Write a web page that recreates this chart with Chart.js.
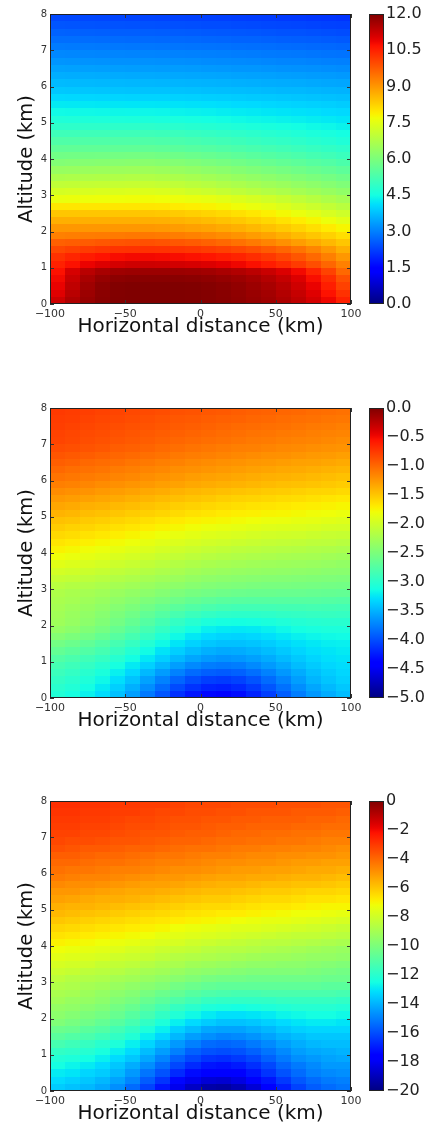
<!DOCTYPE html>
<html>
<head>
<meta charset="utf-8">
<script src="https://cdn.jsdelivr.net/npm/chart.js@4.4.0/dist/chart.umd.min.js"></script>
<style>
  body { margin: 0; background: #fff; }
  .panel { position: absolute; left: 0; width: 427px; height: 345px; }
  .panel canvas { position: absolute; top: 0; }
</style>
</head>
<body>
<div class="panel" style="top:0px">
  <canvas id="map1" width="368" height="345" style="left:0px"></canvas>
  <canvas id="bar1" width="58" height="345" style="left:369px"></canvas>
</div>
<div class="panel" style="top:394px">
  <canvas id="map2" width="368" height="345" style="left:0px"></canvas>
  <canvas id="bar2" width="58" height="345" style="left:369px"></canvas>
</div>
<div class="panel" style="top:787px">
  <canvas id="map3" width="368" height="345" style="left:0px"></canvas>
  <canvas id="bar3" width="58" height="345" style="left:369px"></canvas>
</div>
<script>
// grid cell edges (km): columns left->right, rows top->bottom
const distanceEdges = [-100,-90,-80,-70,-60,-50,-40,-30,-20,-10,0,10,20,30,40,50,60,70,80,90,100];
const altitudeEdges = [8.0,7.8,7.6,7.4,7.2,7.0,6.8,6.6,6.4,6.2,6.0,5.8,5.6,5.4,5.2,5.0,4.8,4.6,4.4,4.2,4.0,
                       3.8,3.6,3.4,3.2,3.0,2.8,2.6,2.4,2.2,2.0,1.8,1.6,1.4,1.2,1.0,0.8,0.6,0.4,0.2,0.0];
const distanceTicks = [-100, -50, 0, 50, 100];
const altitudeTicks = [0, 1, 2, 3, 4, 5, 6, 7, 8];

// colorbar ticks
const ticks1 = [0, 1.5, 3, 4.5, 6, 7.5, 9, 10.5, 12];
const ticks2 = [-5, -4.5, -4, -3.5, -3, -2.5, -2, -1.5, -1, -0.5, 0];
const ticks3 = [-20, -18, -16, -14, -12, -10, -8, -6, -4, -2, 0];

// field values, one row per altitude band (top row = 7.8-8.0 km)
const field1 = [
  [2.35,2.34,2.33,2.32,2.31,2.30,2.30,2.29,2.28,2.27,2.25,2.24,2.22,2.21,2.19,2.17,2.16,2.14,2.12,2.10],
  [2.50,2.49,2.48,2.47,2.46,2.45,2.45,2.44,2.43,2.42,2.40,2.39,2.37,2.36,2.34,2.32,2.31,2.29,2.27,2.25],
  [2.65,2.64,2.63,2.62,2.61,2.60,2.60,2.59,2.58,2.57,2.55,2.54,2.52,2.51,2.49,2.47,2.46,2.44,2.42,2.40],
  [2.80,2.79,2.78,2.77,2.76,2.75,2.75,2.74,2.73,2.72,2.70,2.69,2.67,2.66,2.64,2.62,2.61,2.59,2.57,2.55],
  [2.95,2.94,2.93,2.92,2.91,2.90,2.90,2.89,2.88,2.87,2.85,2.84,2.82,2.81,2.79,2.77,2.76,2.74,2.72,2.70],
  [3.10,3.09,3.08,3.07,3.06,3.05,3.05,3.04,3.03,3.02,3.00,2.99,2.97,2.96,2.94,2.92,2.91,2.89,2.87,2.85],
  [3.25,3.24,3.23,3.22,3.21,3.20,3.20,3.19,3.18,3.17,3.15,3.14,3.12,3.11,3.09,3.07,3.06,3.04,3.02,3.00],
  [3.40,3.39,3.38,3.37,3.36,3.35,3.35,3.34,3.33,3.32,3.30,3.29,3.27,3.26,3.24,3.22,3.21,3.19,3.17,3.15],
  [3.55,3.54,3.53,3.52,3.51,3.50,3.50,3.49,3.48,3.47,3.45,3.44,3.42,3.41,3.39,3.37,3.36,3.34,3.32,3.30],
  [3.70,3.69,3.68,3.67,3.66,3.65,3.65,3.64,3.63,3.62,3.60,3.59,3.57,3.56,3.54,3.52,3.51,3.49,3.47,3.45],
  [3.85,3.84,3.83,3.82,3.81,3.80,3.80,3.79,3.78,3.77,3.75,3.74,3.72,3.71,3.69,3.67,3.66,3.64,3.62,3.60],
  [4.05,4.04,4.03,4.02,4.01,4.00,4.00,3.99,3.97,3.96,3.94,3.92,3.90,3.88,3.86,3.84,3.82,3.80,3.77,3.75],
  [4.25,4.24,4.23,4.22,4.21,4.20,4.20,4.19,4.17,4.15,4.13,4.11,4.08,4.06,4.03,4.01,3.98,3.96,3.93,3.90],
  [4.45,4.44,4.43,4.42,4.41,4.40,4.40,4.39,4.36,4.34,4.32,4.29,4.26,4.24,4.21,4.18,4.15,4.12,4.08,4.05],
  [4.65,4.64,4.63,4.62,4.61,4.60,4.60,4.58,4.56,4.53,4.50,4.48,4.44,4.41,4.38,4.35,4.31,4.28,4.24,4.20],
  [4.85,4.85,4.85,4.85,4.85,4.85,4.85,4.83,4.80,4.76,4.73,4.69,4.65,4.61,4.57,4.53,4.49,4.44,4.40,4.35],
  [5.10,5.10,5.10,5.10,5.10,5.10,5.10,5.08,5.04,5.00,4.96,4.91,4.87,4.82,4.77,4.72,4.67,4.61,4.56,4.50],
  [5.35,5.35,5.35,5.35,5.35,5.35,5.35,5.32,5.28,5.23,5.18,5.13,5.08,5.02,4.96,4.91,4.85,4.78,4.72,4.65],
  [5.60,5.60,5.60,5.60,5.60,5.60,5.60,5.57,5.52,5.47,5.42,5.37,5.31,5.25,5.19,5.13,5.06,4.99,4.92,4.85],
  [5.85,5.86,5.87,5.88,5.89,5.90,5.90,5.87,5.81,5.76,5.70,5.64,5.57,5.50,5.43,5.36,5.29,5.21,5.13,5.05],
  [6.10,6.12,6.14,6.16,6.17,6.19,6.20,6.16,6.11,6.05,5.98,5.92,5.85,5.78,5.70,5.63,5.55,5.47,5.39,5.30],
  [6.40,6.42,6.44,6.46,6.47,6.49,6.50,6.46,6.40,6.34,6.27,6.21,6.13,6.05,5.98,5.90,5.82,5.73,5.64,5.55],
  [6.70,6.72,6.74,6.76,6.77,6.79,6.80,6.76,6.70,6.63,6.56,6.49,6.41,6.33,6.25,6.17,6.08,5.99,5.90,5.80],
  [7.00,7.02,7.04,7.06,7.07,7.09,7.10,7.06,6.99,6.92,6.85,6.77,6.69,6.61,6.52,6.44,6.34,6.25,6.15,6.05],
  [7.30,7.32,7.34,7.36,7.37,7.39,7.40,7.36,7.29,7.21,7.14,7.06,6.97,6.88,6.79,6.71,6.61,6.51,6.41,6.30],
  [7.60,7.62,7.64,7.66,7.67,7.69,7.70,7.68,7.64,7.60,7.55,7.48,7.40,7.31,7.22,7.11,6.98,6.86,6.73,6.60],
  [8.00,8.00,8.00,8.00,8.00,8.00,8.00,7.98,7.94,7.90,7.85,7.78,7.70,7.61,7.52,7.41,7.28,7.16,7.03,6.90],
  [8.40,8.40,8.40,8.40,8.40,8.40,8.40,8.38,8.34,8.29,8.23,8.16,8.08,7.98,7.87,7.75,7.62,7.49,7.34,7.20],
  [8.70,8.70,8.70,8.70,8.70,8.70,8.70,8.68,8.64,8.59,8.53,8.46,8.38,8.28,8.17,8.05,7.92,7.79,7.64,7.50],
  [9.00,9.00,9.00,9.00,9.00,9.00,9.00,8.98,8.94,8.89,8.83,8.76,8.68,8.58,8.47,8.35,8.22,8.09,7.94,7.80],
  [9.30,9.32,9.34,9.36,9.37,9.39,9.40,9.37,9.33,9.28,9.22,9.14,9.05,8.94,8.83,8.70,8.55,8.41,8.26,8.10],
  [9.70,9.74,9.77,9.81,9.85,9.88,9.90,9.87,9.82,9.76,9.69,9.60,9.49,9.37,9.24,9.09,8.92,8.76,8.58,8.40],
  [10.00,10.09,10.17,10.23,10.27,10.29,10.30,10.28,10.26,10.22,10.16,10.09,10.00,9.90,9.77,9.62,9.44,9.23,8.98,8.70],
  [10.30,10.45,10.58,10.68,10.75,10.79,10.80,10.78,10.75,10.71,10.65,10.57,10.47,10.35,10.21,10.03,9.83,9.59,9.31,9.00],
  [10.50,10.71,10.89,11.03,11.13,11.19,11.20,11.18,11.15,11.10,11.04,10.95,10.85,10.72,10.57,10.39,10.17,9.93,9.63,9.30],
  [10.70,11.10,11.40,11.58,11.67,11.70,11.70,11.70,11.70,11.68,11.64,11.57,11.49,11.38,11.24,11.05,10.80,10.48,10.08,9.60],
  [10.80,11.24,11.57,11.77,11.87,11.90,11.90,11.90,11.90,11.88,11.84,11.78,11.70,11.60,11.46,11.28,11.04,10.74,10.36,9.90],
  [10.90,11.34,11.67,11.87,11.97,12.00,12.00,12.00,12.00,11.98,11.94,11.89,11.81,11.71,11.58,11.41,11.18,10.90,10.54,10.10],
  [11.00,11.40,11.70,11.88,11.97,12.00,12.00,12.00,12.00,11.98,11.95,11.90,11.83,11.74,11.63,11.47,11.27,11.01,10.69,10.30],
  [11.20,11.52,11.76,11.90,11.98,12.00,12.00,12.00,12.00,11.98,11.95,11.91,11.85,11.77,11.67,11.53,11.35,11.13,10.85,10.50]
];

const field2 = [
  [-0.75,-0.77,-0.78,-0.80,-0.81,-0.83,-0.84,-0.86,-0.88,-0.89,-0.91,-0.92,-0.94,-0.96,-0.97,-0.99,-1.00,-1.02,-1.03,-1.05],
  [-0.77,-0.78,-0.80,-0.82,-0.83,-0.85,-0.87,-0.89,-0.91,-0.92,-0.94,-0.96,-0.97,-0.99,-1.00,-1.02,-1.04,-1.05,-1.07,-1.08],
  [-0.78,-0.80,-0.82,-0.84,-0.86,-0.88,-0.89,-0.91,-0.93,-0.95,-0.97,-0.99,-1.01,-1.02,-1.04,-1.05,-1.07,-1.09,-1.10,-1.12],
  [-0.80,-0.82,-0.84,-0.86,-0.88,-0.90,-0.92,-0.94,-0.96,-0.98,-1.00,-1.02,-1.04,-1.06,-1.07,-1.09,-1.10,-1.12,-1.14,-1.15],
  [-0.81,-0.83,-0.86,-0.88,-0.90,-0.92,-0.94,-0.97,-0.99,-1.01,-1.03,-1.05,-1.07,-1.09,-1.10,-1.12,-1.14,-1.15,-1.17,-1.19],
  [-0.85,-0.87,-0.89,-0.91,-0.94,-0.96,-0.98,-1.01,-1.03,-1.06,-1.08,-1.10,-1.12,-1.13,-1.15,-1.17,-1.18,-1.20,-1.22,-1.23],
  [-0.90,-0.92,-0.94,-0.97,-0.99,-1.01,-1.04,-1.06,-1.09,-1.11,-1.13,-1.15,-1.17,-1.19,-1.21,-1.22,-1.24,-1.26,-1.27,-1.29],
  [-0.95,-0.97,-1.00,-1.02,-1.04,-1.07,-1.09,-1.12,-1.14,-1.17,-1.19,-1.21,-1.23,-1.25,-1.26,-1.28,-1.30,-1.31,-1.33,-1.35],
  [-1.00,-1.03,-1.05,-1.07,-1.10,-1.12,-1.15,-1.17,-1.20,-1.22,-1.24,-1.26,-1.28,-1.30,-1.32,-1.34,-1.35,-1.37,-1.39,-1.41],
  [-1.06,-1.08,-1.10,-1.12,-1.15,-1.17,-1.20,-1.23,-1.25,-1.28,-1.30,-1.32,-1.34,-1.36,-1.38,-1.39,-1.41,-1.43,-1.45,-1.47],
  [-1.12,-1.14,-1.16,-1.19,-1.21,-1.24,-1.26,-1.29,-1.31,-1.34,-1.36,-1.38,-1.40,-1.42,-1.44,-1.46,-1.47,-1.49,-1.51,-1.53],
  [-1.19,-1.21,-1.23,-1.26,-1.28,-1.31,-1.34,-1.36,-1.39,-1.42,-1.44,-1.46,-1.48,-1.50,-1.52,-1.53,-1.55,-1.57,-1.58,-1.60],
  [-1.26,-1.28,-1.30,-1.33,-1.35,-1.38,-1.41,-1.44,-1.46,-1.49,-1.51,-1.54,-1.56,-1.57,-1.59,-1.61,-1.62,-1.64,-1.66,-1.68],
  [-1.33,-1.35,-1.38,-1.40,-1.43,-1.45,-1.48,-1.51,-1.54,-1.56,-1.59,-1.61,-1.63,-1.65,-1.66,-1.68,-1.70,-1.71,-1.73,-1.75],
  [-1.40,-1.42,-1.45,-1.47,-1.50,-1.53,-1.55,-1.58,-1.61,-1.64,-1.66,-1.69,-1.71,-1.72,-1.74,-1.75,-1.77,-1.79,-1.80,-1.82],
  [-1.47,-1.49,-1.52,-1.54,-1.57,-1.60,-1.63,-1.66,-1.69,-1.72,-1.74,-1.76,-1.78,-1.80,-1.82,-1.83,-1.85,-1.86,-1.88,-1.90],
  [-1.53,-1.56,-1.58,-1.61,-1.64,-1.67,-1.70,-1.73,-1.76,-1.79,-1.82,-1.84,-1.86,-1.88,-1.90,-1.91,-1.92,-1.94,-1.96,-1.97],
  [-1.60,-1.62,-1.65,-1.68,-1.71,-1.74,-1.78,-1.81,-1.84,-1.87,-1.90,-1.92,-1.94,-1.96,-1.98,-1.99,-2.00,-2.02,-2.04,-2.05],
  [-1.66,-1.69,-1.72,-1.75,-1.78,-1.81,-1.85,-1.89,-1.92,-1.95,-1.98,-2.00,-2.02,-2.04,-2.06,-2.07,-2.08,-2.10,-2.11,-2.13],
  [-1.73,-1.76,-1.79,-1.82,-1.85,-1.89,-1.92,-1.96,-2.00,-2.03,-2.06,-2.08,-2.11,-2.12,-2.14,-2.15,-2.16,-2.18,-2.19,-2.21],
  [-1.80,-1.83,-1.86,-1.89,-1.93,-1.96,-2.00,-2.04,-2.07,-2.11,-2.14,-2.16,-2.18,-2.20,-2.21,-2.23,-2.24,-2.25,-2.27,-2.29],
  [-1.88,-1.91,-1.94,-1.97,-2.01,-2.04,-2.08,-2.12,-2.16,-2.19,-2.22,-2.24,-2.26,-2.28,-2.29,-2.30,-2.31,-2.32,-2.34,-2.36],
  [-1.97,-1.99,-2.02,-2.05,-2.09,-2.12,-2.16,-2.20,-2.23,-2.27,-2.30,-2.32,-2.34,-2.35,-2.36,-2.37,-2.38,-2.39,-2.41,-2.42],
  [-2.05,-2.07,-2.10,-2.13,-2.17,-2.20,-2.24,-2.28,-2.31,-2.35,-2.38,-2.40,-2.42,-2.43,-2.44,-2.45,-2.46,-2.47,-2.48,-2.49],
  [-2.13,-2.16,-2.18,-2.21,-2.25,-2.28,-2.32,-2.36,-2.39,-2.43,-2.46,-2.48,-2.49,-2.51,-2.52,-2.52,-2.53,-2.54,-2.55,-2.56],
  [-2.19,-2.22,-2.25,-2.28,-2.32,-2.36,-2.40,-2.45,-2.49,-2.53,-2.56,-2.58,-2.60,-2.61,-2.61,-2.62,-2.62,-2.63,-2.64,-2.65],
  [-2.22,-2.25,-2.29,-2.33,-2.38,-2.43,-2.49,-2.54,-2.59,-2.64,-2.68,-2.71,-2.72,-2.73,-2.73,-2.73,-2.73,-2.73,-2.74,-2.75],
  [-2.25,-2.29,-2.33,-2.38,-2.44,-2.50,-2.57,-2.64,-2.70,-2.76,-2.80,-2.83,-2.85,-2.85,-2.85,-2.84,-2.84,-2.83,-2.84,-2.85],
  [-2.27,-2.32,-2.37,-2.43,-2.50,-2.57,-2.66,-2.74,-2.82,-2.89,-2.94,-2.97,-2.98,-2.98,-2.97,-2.95,-2.94,-2.93,-2.92,-2.93],
  [-2.29,-2.34,-2.40,-2.47,-2.55,-2.64,-2.74,-2.84,-2.94,-3.02,-3.08,-3.11,-3.12,-3.11,-3.09,-3.06,-3.04,-3.02,-3.01,-3.01],
  [-2.35,-2.40,-2.47,-2.54,-2.63,-2.73,-2.83,-2.94,-3.04,-3.13,-3.20,-3.23,-3.24,-3.23,-3.20,-3.16,-3.12,-3.10,-3.08,-3.08],
  [-2.45,-2.50,-2.56,-2.64,-2.73,-2.83,-2.93,-3.05,-3.15,-3.24,-3.30,-3.33,-3.34,-3.32,-3.28,-3.24,-3.20,-3.17,-3.15,-3.14],
  [-2.55,-2.60,-2.66,-2.74,-2.83,-2.93,-3.04,-3.15,-3.25,-3.34,-3.40,-3.43,-3.43,-3.41,-3.37,-3.32,-3.27,-3.24,-3.21,-3.20],
  [-2.65,-2.70,-2.76,-2.83,-2.92,-3.03,-3.14,-3.26,-3.36,-3.45,-3.51,-3.54,-3.53,-3.50,-3.45,-3.39,-3.33,-3.28,-3.25,-3.23],
  [-2.75,-2.80,-2.86,-2.93,-3.02,-3.13,-3.24,-3.36,-3.47,-3.56,-3.62,-3.65,-3.63,-3.59,-3.53,-3.46,-3.39,-3.33,-3.28,-3.26],
  [-2.83,-2.88,-2.94,-3.02,-3.11,-3.23,-3.35,-3.48,-3.60,-3.70,-3.76,-3.78,-3.76,-3.70,-3.62,-3.54,-3.45,-3.38,-3.32,-3.29],
  [-2.89,-2.94,-3.01,-3.09,-3.20,-3.32,-3.47,-3.61,-3.74,-3.85,-3.91,-3.93,-3.90,-3.83,-3.74,-3.63,-3.53,-3.44,-3.37,-3.32],
  [-2.95,-3.00,-3.07,-3.16,-3.28,-3.42,-3.58,-3.74,-3.88,-4.00,-4.07,-4.09,-4.05,-3.97,-3.85,-3.73,-3.60,-3.49,-3.41,-3.35],
  [-3.00,-3.05,-3.13,-3.23,-3.36,-3.51,-3.68,-3.85,-4.01,-4.13,-4.21,-4.23,-4.18,-4.09,-3.96,-3.82,-3.68,-3.56,-3.47,-3.40],
  [-3.05,-3.11,-3.19,-3.29,-3.43,-3.59,-3.78,-3.96,-4.14,-4.27,-4.35,-4.37,-4.32,-4.21,-4.07,-3.92,-3.76,-3.63,-3.53,-3.45]
];

const field3 = [
  [-2.8,-2.8,-2.9,-2.9,-3.0,-3.0,-3.1,-3.1,-3.2,-3.3,-3.3,-3.3,-3.4,-3.4,-3.4,-3.5,-3.5,-3.5,-3.6,-3.6],
  [-2.9,-2.9,-3.0,-3.0,-3.1,-3.1,-3.2,-3.3,-3.3,-3.4,-3.4,-3.5,-3.5,-3.6,-3.6,-3.6,-3.7,-3.7,-3.7,-3.8],
  [-3.0,-3.0,-3.1,-3.1,-3.2,-3.3,-3.3,-3.4,-3.5,-3.5,-3.6,-3.6,-3.7,-3.7,-3.8,-3.8,-3.8,-3.9,-3.9,-4.0],
  [-3.1,-3.1,-3.2,-3.2,-3.3,-3.4,-3.4,-3.5,-3.6,-3.6,-3.7,-3.8,-3.8,-3.9,-3.9,-3.9,-4.0,-4.0,-4.1,-4.1],
  [-3.2,-3.2,-3.3,-3.3,-3.4,-3.5,-3.6,-3.6,-3.7,-3.8,-3.8,-3.9,-4.0,-4.0,-4.1,-4.1,-4.2,-4.2,-4.3,-4.3],
  [-3.3,-3.4,-3.4,-3.5,-3.6,-3.6,-3.7,-3.8,-3.9,-3.9,-4.0,-4.1,-4.1,-4.2,-4.2,-4.3,-4.3,-4.4,-4.5,-4.5],
  [-3.5,-3.6,-3.7,-3.7,-3.8,-3.9,-3.9,-4.0,-4.1,-4.2,-4.2,-4.3,-4.4,-4.4,-4.5,-4.5,-4.6,-4.6,-4.7,-4.8],
  [-3.8,-3.8,-3.9,-4.0,-4.0,-4.1,-4.2,-4.3,-4.3,-4.4,-4.5,-4.5,-4.6,-4.7,-4.7,-4.8,-4.8,-4.9,-4.9,-5.0],
  [-4.0,-4.0,-4.1,-4.2,-4.2,-4.3,-4.4,-4.5,-4.5,-4.6,-4.7,-4.8,-4.8,-4.9,-4.9,-5.0,-5.1,-5.1,-5.2,-5.2],
  [-4.2,-4.3,-4.3,-4.4,-4.5,-4.5,-4.6,-4.7,-4.8,-4.8,-4.9,-5.0,-5.1,-5.1,-5.2,-5.2,-5.3,-5.4,-5.4,-5.5],
  [-4.4,-4.5,-4.6,-4.6,-4.7,-4.8,-4.9,-5.0,-5.0,-5.1,-5.2,-5.3,-5.3,-5.4,-5.4,-5.5,-5.6,-5.6,-5.7,-5.8],
  [-4.7,-4.8,-4.8,-4.9,-5.0,-5.1,-5.2,-5.2,-5.3,-5.4,-5.5,-5.6,-5.6,-5.7,-5.8,-5.8,-5.9,-5.9,-6.0,-6.1],
  [-5.0,-5.0,-5.1,-5.2,-5.3,-5.4,-5.4,-5.5,-5.6,-5.7,-5.8,-5.8,-5.9,-6.0,-6.1,-6.1,-6.2,-6.3,-6.3,-6.4],
  [-5.2,-5.3,-5.4,-5.5,-5.5,-5.6,-5.7,-5.8,-5.9,-6.0,-6.1,-6.1,-6.2,-6.3,-6.4,-6.4,-6.5,-6.6,-6.6,-6.7],
  [-5.5,-5.6,-5.6,-5.7,-5.8,-5.9,-6.0,-6.1,-6.2,-6.3,-6.4,-6.4,-6.5,-6.6,-6.7,-6.7,-6.8,-6.9,-7.0,-7.0],
  [-5.7,-5.8,-5.9,-6.0,-6.1,-6.2,-6.3,-6.4,-6.5,-6.6,-6.7,-6.8,-6.8,-6.9,-7.0,-7.1,-7.2,-7.2,-7.3,-7.4],
  [-6.0,-6.1,-6.2,-6.3,-6.4,-6.5,-6.6,-6.7,-6.8,-6.9,-7.0,-7.1,-7.2,-7.3,-7.4,-7.4,-7.5,-7.6,-7.7,-7.8],
  [-6.3,-6.4,-6.5,-6.6,-6.7,-6.8,-6.9,-7.0,-7.2,-7.3,-7.4,-7.5,-7.6,-7.6,-7.7,-7.8,-7.9,-8.0,-8.1,-8.2],
  [-6.6,-6.7,-6.8,-6.9,-7.0,-7.1,-7.2,-7.4,-7.5,-7.6,-7.7,-7.8,-7.9,-8.0,-8.1,-8.2,-8.3,-8.3,-8.4,-8.5],
  [-6.9,-7.0,-7.1,-7.2,-7.3,-7.4,-7.6,-7.7,-7.8,-8.0,-8.1,-8.2,-8.3,-8.4,-8.5,-8.5,-8.6,-8.7,-8.8,-8.9],
  [-7.2,-7.3,-7.4,-7.5,-7.6,-7.8,-7.9,-8.1,-8.2,-8.3,-8.5,-8.6,-8.6,-8.7,-8.8,-8.9,-9.0,-9.1,-9.2,-9.3],
  [-7.5,-7.6,-7.7,-7.8,-8.0,-8.1,-8.2,-8.4,-8.6,-8.7,-8.8,-8.9,-9.0,-9.1,-9.2,-9.2,-9.3,-9.4,-9.4,-9.5],
  [-7.8,-7.9,-8.0,-8.2,-8.3,-8.4,-8.6,-8.8,-8.9,-9.1,-9.2,-9.3,-9.4,-9.5,-9.5,-9.6,-9.6,-9.7,-9.8,-9.9],
  [-8.1,-8.2,-8.4,-8.5,-8.6,-8.8,-9.0,-9.1,-9.3,-9.5,-9.6,-9.7,-9.8,-9.9,-9.9,-9.9,-9.9,-10.0,-10.1,-10.2],
  [-8.4,-8.6,-8.7,-8.8,-9.0,-9.1,-9.3,-9.5,-9.7,-9.9,-10.1,-10.2,-10.2,-10.3,-10.3,-10.3,-10.3,-10.3,-10.4,-10.4],
  [-8.7,-8.8,-9.0,-9.1,-9.3,-9.5,-9.7,-9.9,-10.2,-10.4,-10.6,-10.7,-10.7,-10.7,-10.7,-10.7,-10.7,-10.7,-10.8,-10.8],
  [-8.9,-9.0,-9.2,-9.4,-9.6,-9.8,-10.1,-10.4,-10.6,-10.9,-11.1,-11.2,-11.3,-11.3,-11.2,-11.2,-11.2,-11.2,-11.2,-11.3],
  [-9.1,-9.3,-9.4,-9.6,-9.9,-10.1,-10.5,-10.8,-11.1,-11.4,-11.7,-11.8,-11.8,-11.8,-11.8,-11.7,-11.7,-11.7,-11.7,-11.8],
  [-9.4,-9.5,-9.7,-9.9,-10.2,-10.5,-10.9,-11.3,-11.7,-12.0,-12.3,-12.4,-12.5,-12.4,-12.3,-12.2,-12.1,-12.1,-12.1,-12.2],
  [-9.6,-9.8,-10.0,-10.2,-10.5,-10.9,-11.3,-11.8,-12.2,-12.6,-12.9,-13.1,-13.1,-13.0,-12.9,-12.7,-12.6,-12.5,-12.5,-12.6],
  [-9.9,-10.1,-10.3,-10.6,-10.9,-11.3,-11.8,-12.3,-12.8,-13.2,-13.5,-13.7,-13.7,-13.6,-13.4,-13.2,-13.0,-12.9,-12.9,-13.0],
  [-10.4,-10.5,-10.8,-11.0,-11.4,-11.8,-12.3,-12.8,-13.4,-13.8,-14.2,-14.3,-14.3,-14.1,-13.9,-13.6,-13.4,-13.3,-13.3,-13.3],
  [-10.8,-11.0,-11.2,-11.5,-11.8,-12.2,-12.8,-13.3,-13.9,-14.4,-14.7,-14.9,-14.8,-14.6,-14.3,-14.0,-13.8,-13.6,-13.6,-13.6],
  [-11.3,-11.5,-11.7,-12.0,-12.3,-12.8,-13.3,-13.9,-14.5,-15.0,-15.4,-15.5,-15.4,-15.1,-14.8,-14.4,-14.1,-13.9,-13.8,-13.8],
  [-11.8,-11.9,-12.1,-12.4,-12.8,-13.2,-13.8,-14.4,-15.0,-15.6,-15.9,-16.0,-15.9,-15.6,-15.2,-14.8,-14.4,-14.2,-14.1,-14.0],
  [-12.2,-12.3,-12.5,-12.8,-13.2,-13.6,-14.2,-14.9,-15.6,-16.1,-16.5,-16.6,-16.4,-16.1,-15.6,-15.1,-14.7,-14.5,-14.3,-14.2],
  [-12.5,-12.7,-12.9,-13.2,-13.6,-14.1,-14.7,-15.4,-16.1,-16.7,-17.1,-17.2,-17.0,-16.6,-16.1,-15.5,-15.1,-14.8,-14.5,-14.5],
  [-12.9,-13.0,-13.3,-13.5,-13.9,-14.5,-15.2,-15.9,-16.7,-17.3,-17.7,-17.8,-17.6,-17.1,-16.5,-15.9,-15.4,-15.0,-14.8,-14.7],
  [-13.2,-13.4,-13.6,-13.9,-14.3,-14.9,-15.7,-16.5,-17.4,-18.1,-18.5,-18.6,-18.3,-17.8,-17.1,-16.4,-15.8,-15.4,-15.1,-15.0],
  [-13.5,-13.7,-13.9,-14.2,-14.7,-15.4,-16.2,-17.1,-18.1,-18.8,-19.3,-19.4,-19.1,-18.5,-17.7,-16.9,-16.2,-15.7,-15.4,-15.2]
];

Chart.defaults.font.family = "'DejaVu Sans', sans-serif";
Chart.defaults.animation = false;

// matplotlib "jet" segments
const jetR = [[0,0],[0.35,0],[0.66,1],[0.89,1],[1,0.5]];
const jetG = [[0,0],[0.125,0],[0.375,1],[0.64,1],[0.91,0],[1,0]];
const jetB = [[0,0.5],[0.11,1],[0.34,1],[0.65,0],[1,0]];
function seg(pts, t) {
  for (let k = 1; k < pts.length; k++) {
    if (t <= pts[k][0]) {
      const a = pts[k-1], b = pts[k];
      return a[1] + (b[1] - a[1]) * (t - a[0]) / (b[0] - a[0]);
    }
  }
  return pts[pts.length-1][1];
}
function jet(t) {
  t = Math.min(1, Math.max(0, t));
  return 'rgb(' + Math.round(255*seg(jetR,t)) + ',' + Math.round(255*seg(jetG,t)) + ',' + Math.round(255*seg(jetB,t)) + ')';
}
const minus = s => String(s).replace('-', '\u2212');

function buildCells(field) {
  const cells = [];
  field.forEach((row, i) => row.forEach((v, j) => {
    cells.push({
      x: (distanceEdges[j] + distanceEdges[j+1]) / 2,
      y: (altitudeEdges[i] + altitudeEdges[i+1]) / 2,
      x0: distanceEdges[j], x1: distanceEdges[j+1],
      y0: altitudeEdges[i+1], y1: altitudeEdges[i], v: v
    });
  }));
  return cells;
}

const heatPlugin = {
  id: 'heat',
  beforeDatasetsDraw(chart, args, opts) {
    const {ctx, chartArea: a, scales: {x, y}} = chart;
    ctx.save();
    ctx.beginPath();
    ctx.rect(a.left, a.top, a.width, a.height);
    ctx.clip();
    chart.data.datasets[0].data.forEach(c => {
      const px0 = Math.round(x.getPixelForValue(c.x0)), px1 = Math.round(x.getPixelForValue(c.x1));
      const py0 = Math.round(y.getPixelForValue(c.y1)), py1 = Math.round(y.getPixelForValue(c.y0));
      ctx.fillStyle = jet((c.v - opts.min) / (opts.max - opts.min));
      ctx.fillRect(px0, py0, px1 - px0, py1 - py0);
    });
    ctx.restore();
  },
  afterDraw(chart) {
    const {ctx, chartArea: a, scales: {x, y}} = chart;
    ctx.save();
    ctx.strokeStyle = '#333';
    ctx.lineWidth = 1;
    ctx.beginPath();
    x.ticks.forEach(t => {
      const px = Math.round(x.getPixelForValue(t.value)) + 0.5;
      ctx.moveTo(px, a.bottom); ctx.lineTo(px, a.bottom - 4);
      ctx.moveTo(px, a.top); ctx.lineTo(px, a.top + 4);
    });
    y.ticks.forEach(t => {
      const py = Math.round(y.getPixelForValue(t.value)) + 0.5;
      ctx.moveTo(a.left, py); ctx.lineTo(a.left + 4, py);
      ctx.moveTo(a.right, py); ctx.lineTo(a.right - 4, py);
    });
    ctx.stroke();
    ctx.strokeStyle = '#222';
    ctx.strokeRect(a.left + 0.5, a.top + 0.5, a.width - 1, a.height - 1);
    ctx.restore();
  }
};

const barPlugin = {
  id: 'cbar',
  beforeDatasetsDraw(chart, args, opts) {
    const {ctx, chartArea: a, scales: {y}} = chart;
    const g = ctx.createLinearGradient(0, y.getPixelForValue(opts.min), 0, y.getPixelForValue(opts.max));
    for (let k = 0; k <= 64; k++) g.addColorStop(k / 64, jet(k / 64));
    ctx.save();
    ctx.fillStyle = g;
    ctx.fillRect(a.left, a.top, a.width, a.height);
    ctx.strokeStyle = '#222';
    ctx.lineWidth = 1;
    ctx.strokeRect(a.left + 0.5, a.top + 0.5, a.width - 1, a.height - 1);
    ctx.restore();
  }
};

function makeMap(id, field, min, max) {
  new Chart(document.getElementById(id), {
    type: 'scatter',
    data: { datasets: [{ data: buildCells(field), pointRadius: 0, pointHoverRadius: 0 }] },
    plugins: [heatPlugin],
    options: {
      responsive: false,
      devicePixelRatio: 1,
      layout: { padding: { top: 14, right: 17, left: 0, bottom: 0 } },
      plugins: { legend: { display: false }, tooltip: { enabled: false }, heat: { min: min, max: max } },
      scales: {
        x: {
          type: 'linear', min: -100, max: 100,
          afterBuildTicks: s => { s.ticks = distanceTicks.map(v => ({ value: v })); },
          afterFit: s => { s.height = 41; s.paddingLeft = 0; s.paddingRight = 0; },
          grid: { display: false, drawTicks: false },
          border: { display: false },
          ticks: { font: { size: 11 }, color: '#333', padding: 4, maxRotation: 0, autoSkip: false, callback: v => minus(v) },
          title: { display: true, text: 'Horizontal distance (km)', font: { size: 20 }, color: '#111', padding: { top: 0, bottom: 6 } }
        },
        y: {
          type: 'linear', min: 0, max: 8,
          afterBuildTicks: s => { s.ticks = altitudeTicks.map(v => ({ value: v })); },
          afterFit: s => { s.width = 50; s.paddingTop = 0; s.paddingBottom = 0; },
          grid: { display: false, drawTicks: false },
          border: { display: false },
          ticks: { font: { size: 10 }, color: '#333', padding: 3, autoSkip: false },
          title: { display: true, text: 'Altitude (km)', font: { size: 19.5 }, color: '#111', padding: { top: 15, bottom: 0 } }
        }
      }
    }
  });
}

function makeBar(id, ticks, decimals) {
  const min = ticks[0], max = ticks[ticks.length - 1];
  new Chart(document.getElementById(id), {
    type: 'scatter',
    data: { datasets: [{ data: [] }] },
    plugins: [barPlugin],
    options: {
      responsive: false,
      devicePixelRatio: 1,
      layout: { padding: { top: 14, right: 0, left: 0, bottom: 41 } },
      plugins: { legend: { display: false }, tooltip: { enabled: false }, cbar: { min: min, max: max } },
      scales: {
        x: { display: false, min: 0, max: 1 },
        y: {
          position: 'right', min: min, max: max,
          afterBuildTicks: s => { s.ticks = ticks.map(v => ({ value: v })); },
          afterFit: s => { s.width = 43; s.paddingTop = 0; s.paddingBottom = 0; },
          grid: { display: false, drawTicks: false },
          border: { display: false },
          ticks: { font: { size: 16 }, color: '#222', padding: 2, autoSkip: false,
                   callback: v => minus(decimals ? v.toFixed(decimals) : v) }
        }
      }
    }
  });
}

makeMap('map1', field1, 0, 12);
makeMap('map2', field2, -5, 0);
makeMap('map3', field3, -20, 0);
makeBar('bar1', ticks1, 1);
makeBar('bar2', ticks2, 1);
makeBar('bar3', ticks3, 0);
</script>
</body>
</html>
